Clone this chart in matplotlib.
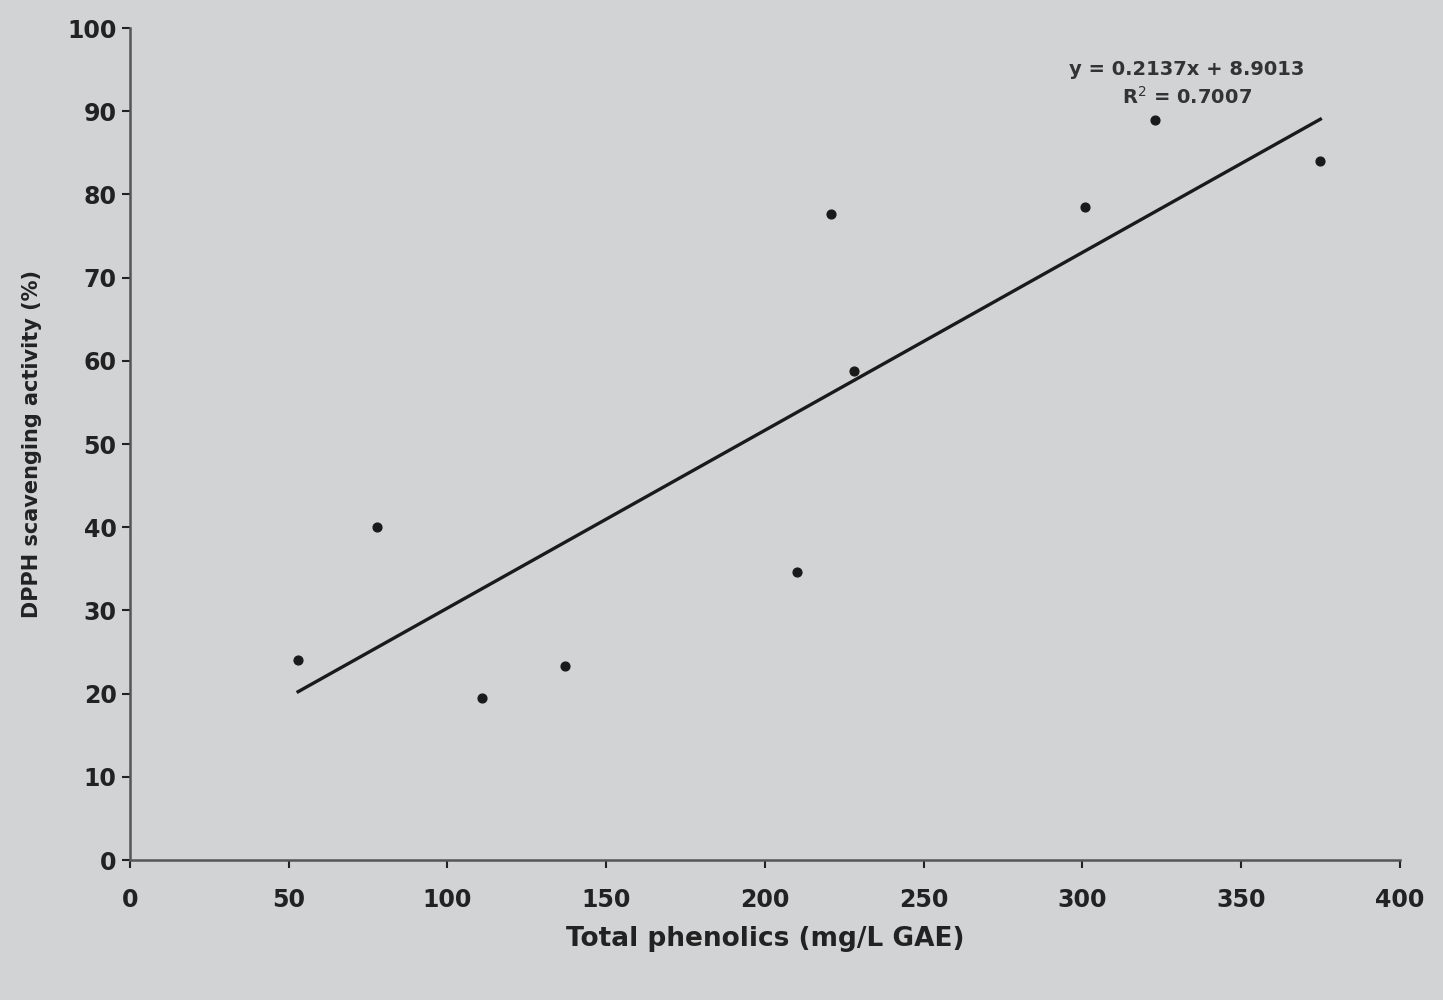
import matplotlib
matplotlib.use("Agg")
import matplotlib.pyplot as plt
import numpy as np

# Data
phenolics = [53, 78, 111, 137, 210, 221, 228, 301, 323, 375]
dpph = [24.0, 40.0, 19.5, 23.3, 34.6, 77.6, 58.8, 78.5, 89.0, 84.0]
slope = 0.2137
intercept = 8.9013
r2 = 0.7007

xticks = [0, 50, 100, 150, 200, 250, 300, 350, 400]
yticks = [0, 10, 20, 30, 40, 50, 60, 70, 80, 90, 100]

bg = "#d2d3d5"
fig = plt.figure(figsize=(14.43, 10), dpi=100, facecolor=bg)
ax = fig.add_axes([0.09, 0.14, 0.88, 0.832], facecolor=bg)

ax.scatter(phenolics, dpph, s=40, color="#1a1a1a", zorder=3)
xl = np.array([min(phenolics), max(phenolics)])
ax.plot(xl, slope * xl + intercept, color="#1a1a1a", lw=2.4, zorder=2)

ax.set_xlim(0, 400)
ax.set_ylim(0, 100)
ax.set_xticks(xticks)
ax.set_yticks(yticks)
for s in ["top", "right"]:
    ax.spines[s].set_visible(False)
for s in ["left", "bottom"]:
    ax.spines[s].set_color("#555555")
    ax.spines[s].set_linewidth(1.8)
ax.tick_params(axis="both", labelsize=17, colors="#222222", width=1.5, length=6)
for lbl in ax.get_xticklabels() + ax.get_yticklabels():
    lbl.set_fontweight("bold")
ax.tick_params(axis="x", pad=14)

ax.set_xlabel("Total phenolics (mg/L GAE)", fontsize=19, fontweight="bold", color="#222222", labelpad=10)
ax.set_ylabel("DPPH scavenging activity (%)", fontsize=15, fontweight="bold", color="#222222", labelpad=18)

ax.text(333, 93.3, f"y = {slope}x + {intercept}\nR$^2$ = {r2}", ha="center", va="center",
        fontsize=14, fontweight="bold", color="#333333", linespacing=1.4)

fig.savefig("out.png", dpi=100, facecolor=bg)
